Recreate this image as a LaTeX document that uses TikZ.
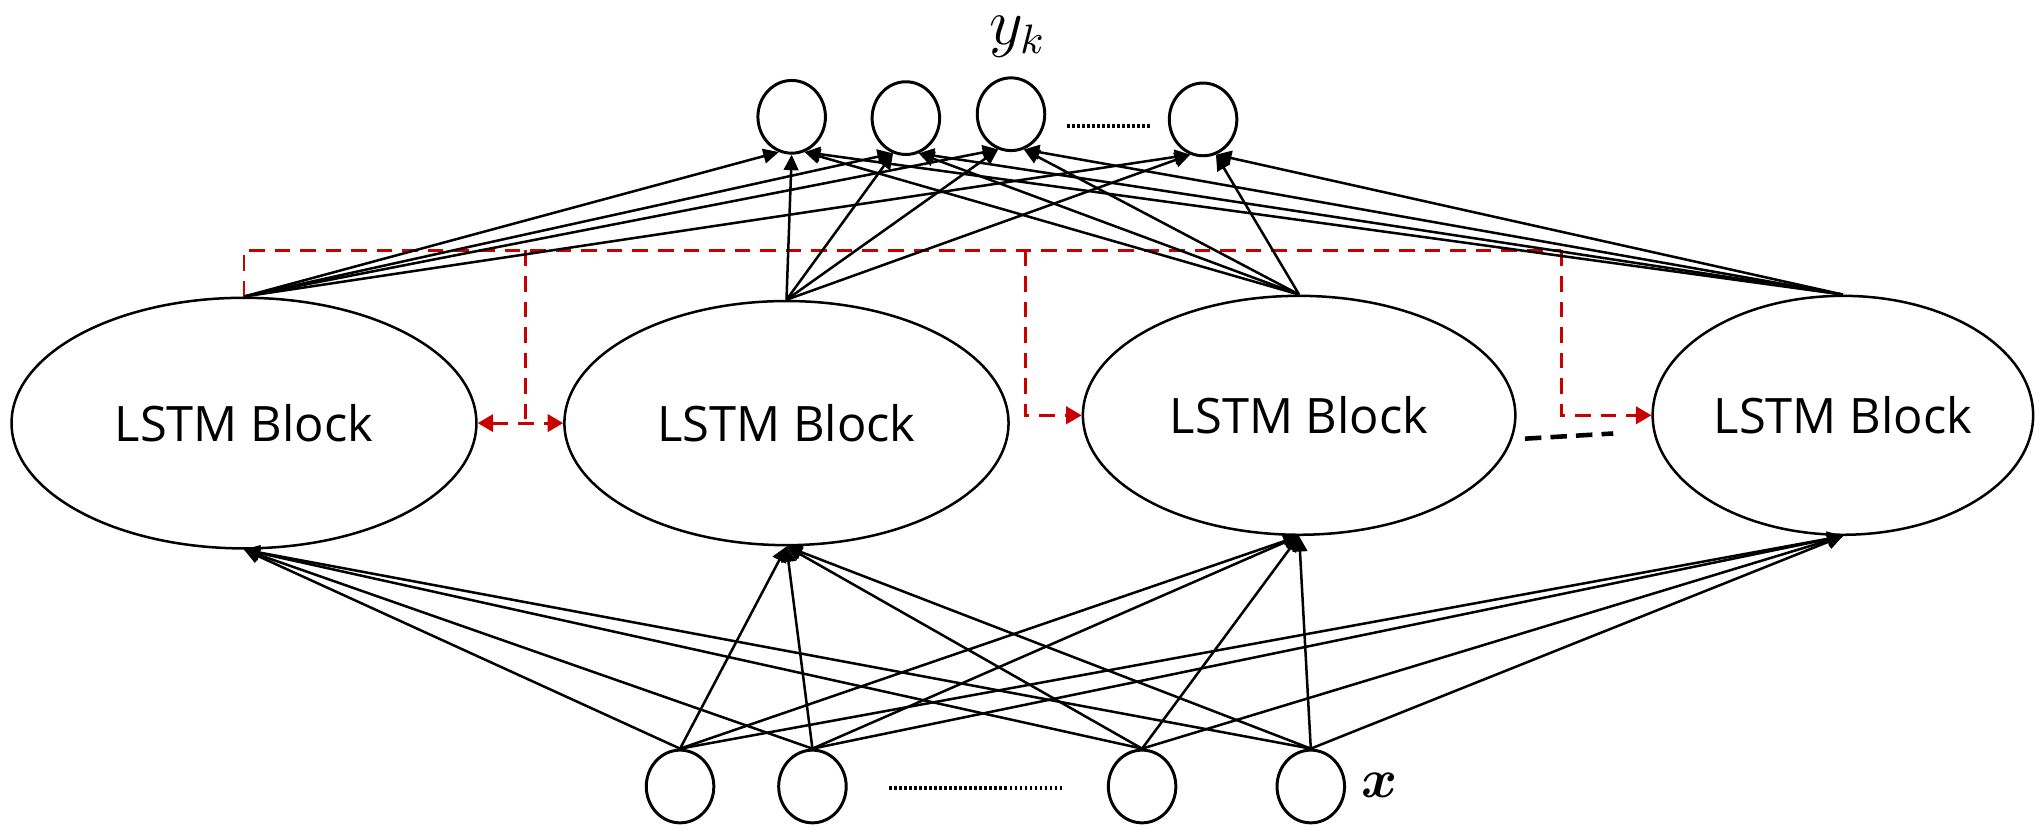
\documentclass[tikz,border=0pt]{standalone}
\usepackage{amsmath,amssymb}
\usepackage{xcolor}
\usepackage{fontspec}
\setmainfont{Open Sans}
\usetikzlibrary{arrows.meta,shapes,calc,positioning}
\definecolor{recred}{RGB}{200,0,0}

\begin{document}
\begin{tikzpicture}[x=0.01cm, y=-0.01cm, redtip/.tip={Triangle[length=3.4pt, width=3.8pt]}]
			\tikzstyle{every node}=[font=\fontsize{10.7}{12}\selectfont]
			\tikzstyle{block}=[draw, ellipse, line width=0.55pt, inner sep=0pt]
			\tikzstyle{unit}=[draw, ellipse, line width=0.65pt, minimum width=0.52cm, minimum height=0.56cm, inner sep=0pt]
			\tikzstyle{link}=[line width=0.55pt, -{Triangle[length=3.4pt, width=3.2pt]}]
			\tikzstyle{recur}=[line width=0.65pt, recred, dash pattern=on 3.4pt off 2.2pt]
			\useasboundingbox (0,0) rectangle (1568,639);
			% LSTM blocks
			\node [block, minimum width=3.58cm, minimum height=1.93cm] (l1) at (188,326) {LSTM Block};
			\node [block, minimum width=3.42cm, minimum height=1.88cm] (l2) at (606,326) {LSTM Block};
			\node [block, minimum width=3.33cm, minimum height=1.84cm] (l3) at (1001,320) {LSTM Block};
			\node [block, minimum width=2.93cm, minimum height=1.84cm] (l4) at (1420,320) {LSTM Block};
			% output units
			\node [unit] (o1) at (610,90) {};
			\node [unit] (o2) at (698,91) {};
			\node [unit] (o3) at (779,88) {};
			\node [unit] (o4) at (927,92) {};
			% input units
			\node [unit] (i1) at (524,606) {};
			\node [unit] (i2) at (626,606) {};
			\node [unit] (i3) at (880,606) {};
			\node [unit] (i4) at (1010,606) {};
			\node [font=\fontsize{13.5}{15}\selectfont, inner sep=0pt] (yk) at (784,28) {$y_k$};
			\node [font=\fontsize{13}{15}\selectfont] (xin) at (1063,605) {$\boldsymbol{x}$};
			% dots
			\coordinate (dta) at (822,97);
			\coordinate (dtb) at (887,97);
			\coordinate (dba) at (685,607);
			\coordinate (dbb) at (820,607);
			\coordinate (dsa) at (1175,338);
			\coordinate (dsb) at (1243,334);
			\draw [line width=0.85pt, dash pattern=on 0.6pt off 0.5pt] (dta) -- (dtb);
			\draw [line width=0.85pt, dash pattern=on 0.6pt off 0.5pt] (dba) -- (dbb);
			\draw [line width=1pt, dash pattern=on 3.6pt off 2pt] (dsa) -- (dsb);
			% recurrent links
			\coordinate (ra) at (405,193);
			\coordinate (rb) at (790,193);
			\coordinate (rc) at (1203,193);
			\draw [recur] (l1.north) |- (rc);
			\draw [recur] (ra) -- (ra |- l1.east);
			\draw [recur, {redtip}-{redtip}] (l1.east) -- (l2.west);
			\draw [recur, -{redtip}] (rb) |- (l3.west);
			\draw [recur, -{redtip}] (rc) |- (l4.west);
			% input to blocks
			\draw [link] (i1.north) -- (l1.south);
			\draw [link] (i1.north) -- (l2.south);
			\draw [link] (i1.north) -- (l3.south);
			\draw [link] (i1.north) -- (l4.south);
			\draw [link] (i2.north) -- (l1.south);
			\draw [link] (i2.north) -- (l2.south);
			\draw [link] (i2.north) -- (l3.south);
			\draw [link] (i2.north) -- (l4.south);
			\draw [link] (i3.north) -- (l1.south);
			\draw [link] (i3.north) -- (l2.south);
			\draw [link] (i3.north) -- (l3.south);
			\draw [link] (i3.north) -- (l4.south);
			\draw [link] (i4.north) -- (l1.south);
			\draw [link] (i4.north) -- (l2.south);
			\draw [link] (i4.north) -- (l3.south);
			\draw [link] (i4.north) -- (l4.south);
			% blocks to outputs
			\draw [link] (l1.north) -- (o1.-110);
			\draw [link] (l1.north) -- (o2.-110);
			\draw [link] (l1.north) -- (o3.-110);
			\draw [link] (l1.north) -- (o4.-110);
			\draw [link] (l2.north) -- (o1.south);
			\draw [link] (l2.north) -- (o2.-110);
			\draw [link] (l2.north) -- (o3.-110);
			\draw [link] (l2.north) -- (o4.-110);
			\draw [link] (l3.north) -- (o1.-70);
			\draw [link] (l3.north) -- (o2.-70);
			\draw [link] (l3.north) -- (o3.-70);
			\draw [link] (l3.north) -- (o4.-70);
			\draw [link] (l4.north) -- (o1.-70);
			\draw [link] (l4.north) -- (o2.-70);
			\draw [link] (l4.north) -- (o3.-70);
			\draw [link] (l4.north) -- (o4.-70);
		\end{tikzpicture}
\end{document}
